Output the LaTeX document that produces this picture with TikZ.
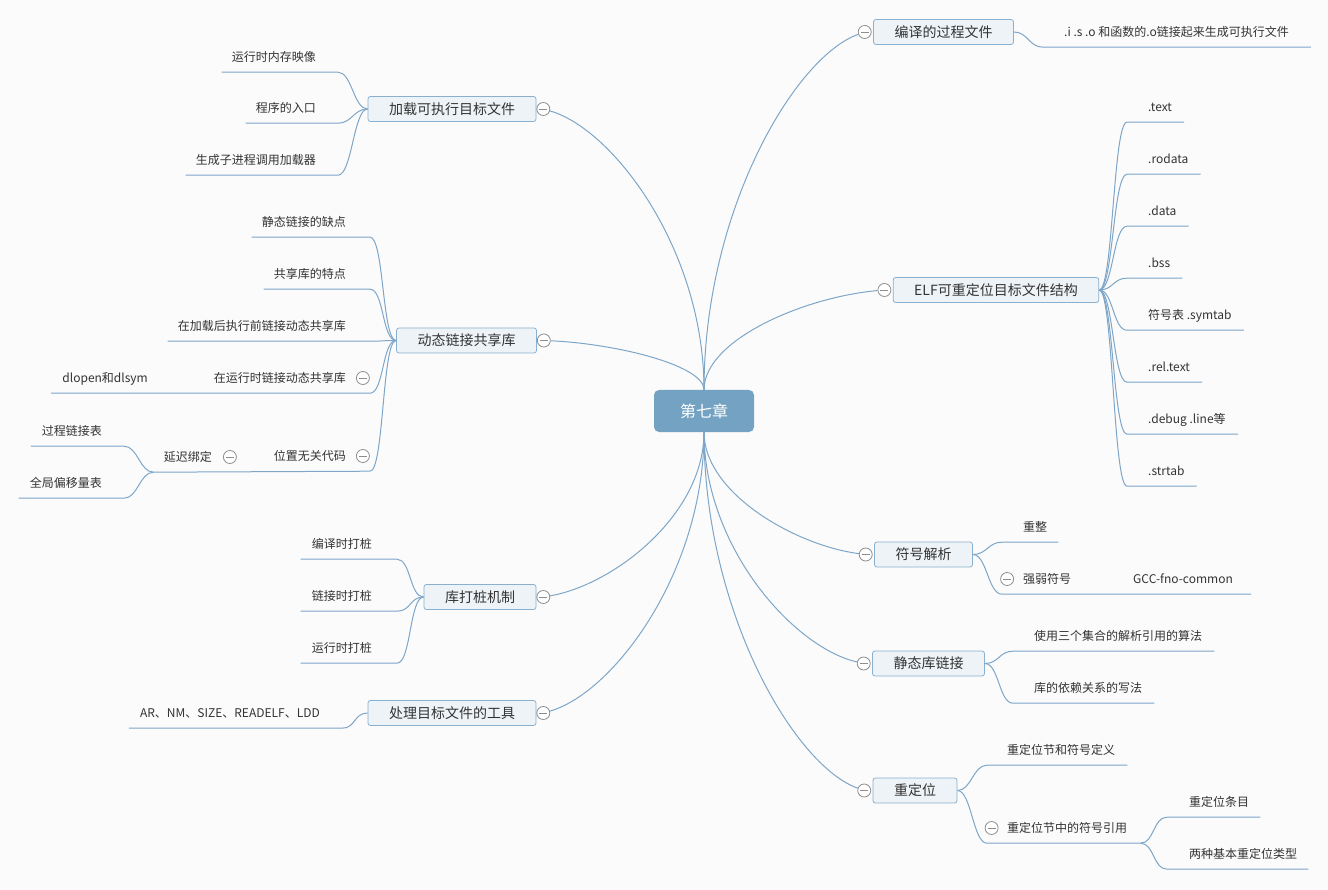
\documentclass[tikz,border=0pt]{standalone}
\usepackage{fontspec}
\setmainfont{Noto Sans CJK SC}
\usetikzlibrary{positioning}

\definecolor{linkblue}{HTML}{7DA6C8}
\definecolor{boxline}{HTML}{8AB0CF}
\definecolor{boxfill}{HTML}{EEF3F7}
\definecolor{rootfill}{HTML}{74A2C2}
\definecolor{foldgray}{HTML}{8E8E8E}
\definecolor{inkgray}{HTML}{333333}
\definecolor{paper}{HTML}{FBFBFB}

\begin{document}
\begin{tikzpicture}[x=1pt, y=1pt,
  root/.style={rounded corners=5pt, fill=rootfill, text=white, minimum width=100pt,
    minimum height=42pt, font=\fontsize{16}{18}\selectfont},
  topic/.style={draw=boxline, fill=boxfill, rounded corners=2.5pt, line width=0.8pt,
    minimum height=25pt, inner xsep=21pt, text=inkgray, font=\fontsize{14}{16}\selectfont},
  fold/.style={circle, draw=foldgray, fill=white, line width=0.8pt, minimum size=13pt,
    inner sep=0pt, path picture={\draw[foldgray, line width=0.8pt]
      ([xshift=-4pt]path picture bounding box.center) -- ([xshift=4pt]path picture bounding box.center);}},
  leaf/.style={inner xsep=0pt, inner ysep=8.5pt, text height=11pt, text depth=2pt,
    text=inkgray, font=\fontsize{12}{14}\selectfont},
  branch/.style={draw=linkblue, line width=1pt},
  toR/.style={to path={.. controls +(14,0) and +(-14,0) .. (\tikztotarget)}},
  toL/.style={to path={.. controls +(-14,0) and +(14,0) .. (\tikztotarget)}}
]

% page
\fill[paper] (0,0) rectangle (1328,-890);
\useasboundingbox (0,0) rectangle (1328,-890);

% central topic
\node[root] (root) at (704,-411) {第七章};

% main topics, right side
\node[topic] (compile) at (943.5,-32) {编译的过程文件};
\node[fold, left=1.5pt of compile] (compile-f) {};
\node[topic] (elf) at (996,-290) {ELF可重定位目标文件结构};
\node[fold, left=1.5pt of elf] (elf-f) {};
\node[topic] (symres) at (923.5,-554.5) {符号解析};
\node[fold, left=1.5pt of symres] (symres-f) {};
\node[topic] (statlib) at (928.5,-663.5) {静态库链接};
\node[fold, left=1.5pt of statlib] (statlib-f) {};
\node[topic] (reloc) at (915,-790.5) {重定位};
\node[fold, left=1.5pt of reloc] (reloc-f) {};

% main topics, left side
\node[topic] (load) at (452,-109) {加载可执行目标文件};
\node[fold, right=0pt of load] (load-f) {};
\node[topic] (dynlib) at (466.5,-340.5) {动态链接共享库};
\node[fold, right=0pt of dynlib] (dynlib-f) {};
\node[topic] (interpose) at (480,-597) {库打桩机制};
\node[fold, right=0pt of interpose] (interpose-f) {};
\node[topic] (tools) at (452,-713) {处理目标文件的工具};
\node[fold, right=0pt of tools] (tools-f) {};

% branches out of the central topic
\draw[branch] (root.north) .. controls +(0,179) and +(-70,-25) .. (compile-f);
\draw[branch] (root.north) .. controls +(0,50) and +(-80,-7) .. (elf-f);
\draw[branch] (root.north) .. controls +(0,140) and +(70,-20) .. (load-f);
\draw[branch] (root.north) .. controls +(0,25) and +(70,-3) .. (dynlib-f);
\draw[branch] (root.south) .. controls +(0,-61) and +(-70,9) .. (symres-f);
\draw[branch] (root.south) .. controls +(0,-115) and +(-70,16) .. (statlib-f);
\draw[branch] (root.south) .. controls +(0,-179) and +(-70,25) .. (reloc-f);
\draw[branch] (root.south) .. controls +(0,-83) and +(70,12) .. (interpose-f);
\draw[branch] (root.south) .. controls +(0,-140) and +(70,20) .. (tools-f);

% compile
\node[leaf, anchor=west] (c1) at (1064,-32) {.i .s .o 和函数的.o链接起来生成可执行文件};
\draw[branch] (compile.east) to[toR] ([xshift=-21pt]c1.south west) -- ([xshift=22pt]c1.south east);

% ELF sections
\foreach \lbl [count=\i] in {.text, .rodata, .data, .bss, 符号表 .symtab, .rel.text, .debug .line等, .strtab} {
  \node[leaf, anchor=west] (e\i) at (1148,{-107-52*(\i-1)}) {\lbl};
  \draw[branch] (elf.east) to[toR] ([xshift=-21pt]e\i.south west) -- ([xshift=12pt]e\i.south east);
}

% symbol resolution
\node[leaf, anchor=west] (s1) at (1023,-527) {重整};
\node[leaf, anchor=west] (s2) at (1023,-579) {强弱符号};
\node[fold, left=9pt of s2] (s2-f) {};
\node[leaf, anchor=west] (s3) at (1133,-579) {GCC-fno-common};
\draw[branch] (symres.east) to[toR] ([xshift=-21pt]s1.south west) -- ([xshift=11pt]s1.south east);
\draw[branch] (symres.east) to[toR] ([xshift=-21pt]s2.south west) -- ([xshift=18pt]s3.south east);

% static libraries
\node[leaf, anchor=west] (k1) at (1034,-636) {使用三个集合的解析引用的算法};
\node[leaf, anchor=west] (k2) at (1034,-688) {库的依赖关系的写法};
\draw[branch] (statlib.east) to[toR] ([xshift=-21pt]k1.south west) -- ([xshift=12pt]k1.south east);
\draw[branch] (statlib.east) to[toR] ([xshift=-21pt]k2.south west) -- ([xshift=12pt]k2.south east);

% relocation
\node[leaf, anchor=west] (r1) at (1007,-750) {重定位节和符号定义};
\node[leaf, anchor=west] (r2) at (1007,-828) {重定位节中的符号引用};
\node[fold, left=8.5pt of r2] (r2-f) {};
\node[leaf, anchor=west] (r3) at (1189,-802) {重定位条目};
\node[leaf, anchor=west] (r4) at (1189,-854) {两种基本重定位类型};
\draw[branch] (reloc.east) to[toR] ([xshift=-20pt]r1.south west) -- ([xshift=12pt]r1.south east);
\draw[branch] (reloc.east) to[toR] ([xshift=-20pt]r2.south west) -- ([xshift=13pt]r2.south east) coordinate (r2-end);
\draw[branch] (r2-end) to[toR] ([xshift=-22pt]r3.south west) -- ([xshift=11pt]r3.south east);
\draw[branch] (r2-end) to[toR] ([xshift=-22pt]r4.south west) -- ([xshift=11pt]r4.south east);

% loading
\node[leaf, anchor=east] (l1) at (316,-57) {运行时内存映像};
\node[leaf, anchor=east] (l2) at (316,-108) {程序的入口};
\node[leaf, anchor=east] (l3) at (316,-160) {生成子进程调用加载器};
\draw[branch] (load.west) to[toL] ([xshift=22pt]l1.south east) -- ([xshift=-10pt]l1.south west);
\draw[branch] (load.west) to[toL] ([xshift=22pt]l2.south east) -- ([xshift=-10pt]l2.south west);
\draw[branch] (load.west) to[toL] ([xshift=22pt]l3.south east) -- ([xshift=-10pt]l3.south west);

% dynamic linking
\node[leaf, anchor=east] (d1) at (346,-222) {静态链接的缺点};
\node[leaf, anchor=east] (d2) at (346,-274) {共享库的特点};
\node[leaf, anchor=east] (d3) at (346,-326) {在加载后执行前链接动态共享库};
\node[leaf, anchor=east] (d4) at (346,-378) {在运行时链接动态共享库};
\node[fold, right=10pt of d4] (d4-f) {};
\node[leaf, anchor=east] (d5) at (346,-456) {位置无关代码};
\node[fold, right=10pt of d5] (d5-f) {};
\node[leaf, anchor=east] (d6) at (148,-378) {dlopen和dlsym};
\node[leaf, anchor=east] (d7) at (212,-457) {延迟绑定};
\node[fold, right=11pt of d7] (d7-f) {};
\node[leaf, anchor=east] (d8) at (102,-431) {过程链接表};
\node[leaf, anchor=east] (d9) at (102,-483) {全局偏移量表};
\draw[branch] (dynlib.west) to[toL] ([xshift=24pt]d1.south east) -- ([xshift=-10pt]d1.south west);
\draw[branch] (dynlib.west) to[toL] ([xshift=24pt]d2.south east) -- ([xshift=-10pt]d2.south west);
\draw[branch] (dynlib.west) to[toL] ([xshift=24pt]d3.south east) -- ([xshift=-10pt]d3.south west);
\draw[branch] (dynlib.west) to[toL] ([xshift=24pt]d4.south east) -- ([xshift=-11pt]d6.south west);
\draw[branch] (dynlib.west) to[toL] ([xshift=24pt]d5.south east) -- ([xshift=-10pt]d7.south west) coordinate (d7-end);
\draw[branch] (d7-end) to[toL] ([xshift=22pt]d8.south east) -- ([xshift=-11pt]d8.south west);
\draw[branch] (d7-end) to[toL] ([xshift=22pt]d9.south east) -- ([xshift=-11pt]d9.south west);

% library interpositioning
\node[leaf, anchor=east] (p1) at (372,-544) {编译时打桩};
\node[leaf, anchor=east] (p2) at (372,-596) {链接时打桩};
\node[leaf, anchor=east] (p3) at (372,-648) {运行时打桩};
\draw[branch] (interpose.west) to[toL] ([xshift=25pt]p1.south east) -- ([xshift=-11pt]p1.south west);
\draw[branch] (interpose.west) to[toL] ([xshift=25pt]p2.south east) -- ([xshift=-11pt]p2.south west);
\draw[branch] (interpose.west) to[toL] ([xshift=25pt]p3.south east) -- ([xshift=-11pt]p3.south west);

% tools
\node[leaf, anchor=east] (u1) at (320,-713) {AR、NM、SIZE、READELF、LDD};
\draw[branch] (tools.west) to[toL] ([xshift=22pt]u1.south east) -- ([xshift=-11pt]u1.south west);

\end{tikzpicture}
\end{document}
